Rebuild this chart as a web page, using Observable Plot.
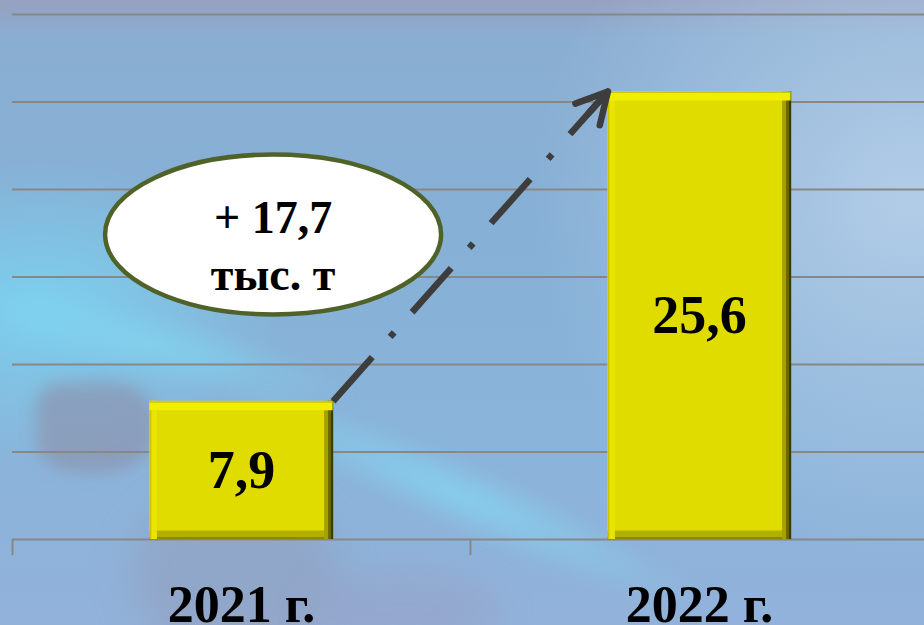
<!DOCTYPE html>
<html>
<head>
<meta charset="utf-8">
<script src="https://cdn.jsdelivr.net/npm/d3@7"></script>
<script src="https://cdn.jsdelivr.net/npm/@observablehq/plot@0.6"></script>
<style>
html, body { margin: 0; padding: 0; width: 924px; height: 625px; overflow: hidden; }
#wrap {
  position: relative; width: 924px; height: 625px; overflow: hidden;
  background:
    radial-gradient(ellipse 380px 360px at 910px 200px, rgba(180,206,232,0.95), rgba(180,206,232,0) 100%),
    radial-gradient(ellipse 240px 150px at 40px 310px, rgba(124,208,238,1), rgba(124,208,238,0) 100%),
    linear-gradient(to bottom, #97a0bf 0%, #8aaed2 6%, #86b0d6 40%, #8ab4da 70%, #92b2da 100%);
}
.deco { position: absolute; pointer-events: none; }
#streak1 { left: 200px; top: 460px; width: 520px; height: 70px; transform: rotate(24deg);
  background: radial-gradient(ellipse closest-side, rgba(132,214,242,0.75), rgba(132,214,242,0)); filter: blur(6px); }
#streak2 { left: -60px; top: 310px; width: 420px; height: 70px; transform: rotate(14deg);
  background: radial-gradient(ellipse closest-side, rgba(130,214,240,0.7), rgba(130,214,240,0)); filter: blur(6px); }
#blob { left: 36px; top: 382px; width: 120px; height: 90px; border-radius: 25% 40% 45% 35%;
  background: rgba(140,142,166,0.6); filter: blur(8px); }
#blob2 { left: 130px; top: 490px; width: 210px; height: 170px; border-radius: 50%;
  background: rgba(146,154,180,0.45); filter: blur(18px); }
#blob3 { left: 310px; top: 570px; width: 190px; height: 80px; border-radius: 50%;
  background: rgba(152,154,190,0.4); filter: blur(16px); }
#chart { position: absolute; left: 0; top: 0; }
svg { display: block; }
</style>
</head>
<body>
<div id="wrap">
  <div class="deco" id="streak2"></div>
  <div class="deco" id="blob"></div>
  <div class="deco" id="blob2"></div>
  <div class="deco" id="blob3"></div>
  <div class="deco" id="streak1"></div>
  <div id="chart"></div>
</div>
<script>
// ---- data ----
const categories = ["2021 г.", "2022 г."];
const values = [7.9, 25.6];
const yTicks = [0, 5, 10, 15, 20, 25, 30];
const unit = "тыс. т";

const data = categories.map((category, i) => ({category, i, value: values[i]}));
const delta = values[1] - values[0];
const fmt = (v) => v.toFixed(1).replace(".", ",");

const bx1 = (d) => d.i + 0.3;
const bx2 = (d) => d.i + 0.7;

const arrowData = [{x1: bx2(data[0]), y1: data[0].value, x2: bx1(data[1]), y2: data[1].value}];
const calloutData = [{x: 0.569, y: 17.43, text: `+ ${fmt(delta)}\n${unit}`}];

// ellipse symbol for the callout
const ellipseSymbol = {
  draw(ctx, size) {
    const rx = Math.sqrt(size / Math.PI), ry = rx * 0.476, k = 0.5523;
    ctx.moveTo(rx, 0);
    ctx.bezierCurveTo(rx, ry * k, rx * k, ry, 0, ry);
    ctx.bezierCurveTo(-rx * k, ry, -rx, ry * k, -rx, 0);
    ctx.bezierCurveTo(-rx, -ry * k, -rx * k, -ry, 0, -ry);
    ctx.bezierCurveTo(rx * k, -ry, rx, -ry * k, rx, 0);
    ctx.closePath();
  }
};

const font = "'Liberation Serif', 'Times New Roman', serif";
const grid = "#878787";
const arrowColor = "#3d3d3d";

const chart = Plot.plot({
  width: 924,
  height: 625,
  marginTop: 14,
  marginBottom: 86,
  marginLeft: 12,
  marginRight: 0,
  style: {background: "transparent", overflow: "hidden"},
  x: {type: "linear", domain: [0, 2], range: [12, 928], axis: null},
  y: {domain: [0, 30], axis: null},
  marks: [
    Plot.ruleY(yTicks, {stroke: grid, strokeWidth: 2}),
    Plot.axisX({ticks: [0, 1, 2], tickSize: 16, tickFormat: () => "", stroke: grid, strokeWidth: 2, strokeOpacity: 1}),
    // bar face
    Plot.rectY(data, {x1: bx1, x2: bx2, y1: 0, y2: "value", fill: "#e0dc00"}),
    // bevels
    Plot.ruleY(data, {y: 0, x1: bx1, x2: bx2, stroke: "#b3af00", strokeWidth: 9, dy: -4.5}),
    Plot.ruleY(data, {y: 0, x1: bx1, x2: bx2, stroke: "#8c8900", strokeWidth: 2.5, dy: -1.25}),
    Plot.ruleX(data, {x: bx1, y1: 0, y2: "value", stroke: "#e9e500", strokeWidth: 7, dx: 3.5}),
    Plot.ruleX(data, {x: bx1, y1: 0, y2: "value", stroke: "#c9c500", strokeWidth: 1.5, dx: 0.75}),
    Plot.ruleX(data, {x: bx2, y1: 0, y2: "value", stroke: "#a5a100", strokeWidth: 9, dx: -4.5}),
    Plot.ruleX(data, {x: bx2, y1: 0, y2: "value", stroke: "#6a6700", strokeWidth: 5, dx: -2.5}),
    Plot.ruleX(data, {x: bx2, y1: 0, y2: "value", stroke: "#3a3800", strokeWidth: 2, dx: -1}),
    Plot.ruleY(data, {y: "value", x1: bx1, x2: bx2, stroke: "#f1ee00", strokeWidth: 9, dy: 4.5}),
    Plot.ruleY(data, {y: "value", x1: bx1, x2: bx2, stroke: "#c8c400", strokeWidth: 1.5, dy: 0.75}),
    // bar values
    Plot.text(data, {x: (d) => d.i + 0.5, y: (d) => d.value / 2, text: (d) => fmt(d.value),
      fontSize: 54, fontWeight: "bold", fontFamily: font, fill: "#000"}),
    // category labels
    Plot.text(data, {x: (d) => d.i + 0.5, y: 0, text: "category", dy: 82, lineAnchor: "bottom",
      fontSize: 52, fontWeight: "bold", fontFamily: font, fill: "#000"}),
    // growth arrow
    Plot.link(arrowData, {x1: "x1", y1: "y1", x2: "x2", y2: "y2", stroke: arrowColor, strokeWidth: 6.5,
      strokeDasharray: "59,27,6,27"}),
    Plot.arrow(arrowData, {x1: "x1", y1: "y1", x2: "x2", y2: "y2", stroke: arrowColor, strokeWidth: 6.5,
      headLength: 8, headAngle: 56, insetStart: 385, strokeLinecap: "round", strokeLinejoin: "round"}),
    // callout
    Plot.dot(calloutData, {x: "x", y: "y", r: 168, symbol: ellipseSymbol, fill: "white",
      stroke: "#4f6228", strokeWidth: 4.5}),
    Plot.text(calloutData, {x: "x", y: "y", text: "text", dy: 56, lineAnchor: "bottom", lineHeight: 1.24,
      fontSize: 46, fontWeight: "bold", fontFamily: font, fill: "#000"})
  ]
});

document.getElementById("chart").appendChild(chart);
</script>
</body>
</html>
